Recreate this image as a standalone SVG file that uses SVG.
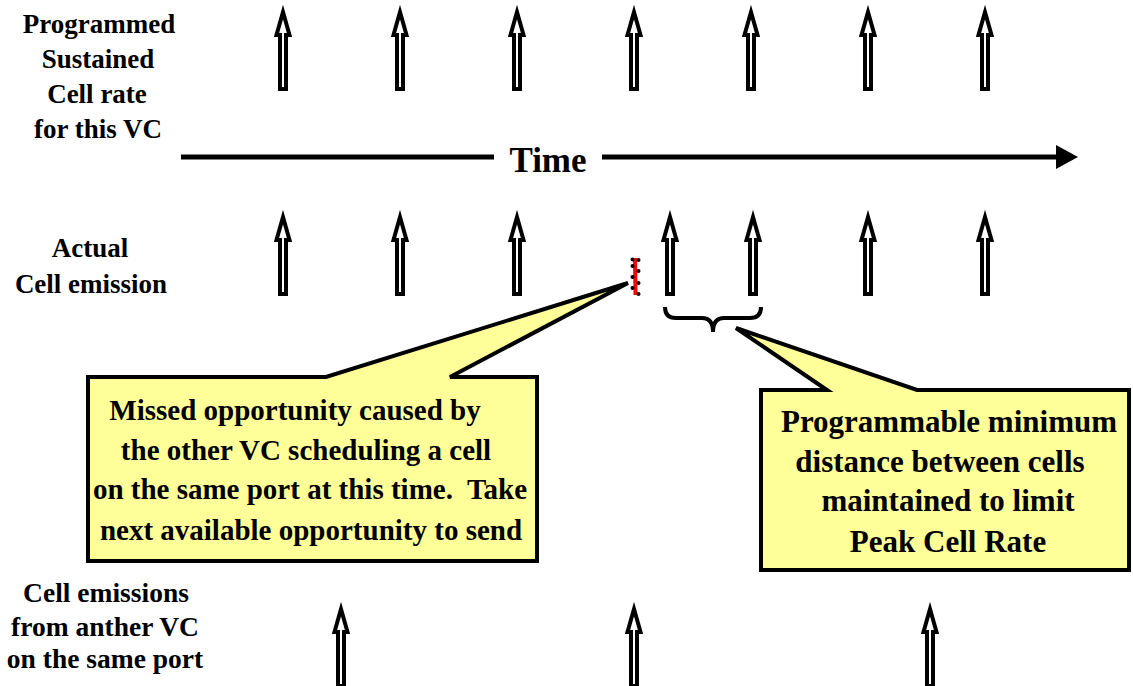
<svg xmlns="http://www.w3.org/2000/svg" width="1133" height="686" viewBox="0 0 1133 686">
  <style>
    .lbl { font-family: "Liberation Serif", "Times New Roman", serif; font-weight: bold; fill: #000; text-anchor: middle; }
    .side { font-size: 27px; }
    .side-b { font-size: 27.5px; }
    .note-l { font-size: 29px; }
    .note-r { font-size: 31px; }
    .time { font-size: 35px; }
    .cell { fill: #fff; stroke: #000; stroke-width: 4; stroke-linejoin: miter; stroke-miterlimit: 6; }
    .callout { fill: #FFFF99; stroke: #000; stroke-width: 4; stroke-linejoin: miter; }
  </style>
  <defs>
    <!-- hollow block arrow marking one cell slot, outer tip at (0,0) -->
    <path id="cellArrow" class="cell" d="M0,7 L6.5,30 L3,30 L3,84 L-3,84 L-3,30 L-6.5,30 Z"/>
  </defs>
  <rect width="1133" height="686" fill="#fff"/>

  <!-- row labels -->
  <g id="label-sustained">
    <text class="lbl side" x="99" y="33">Programmed</text>
    <text class="lbl side" x="98" y="68">Sustained</text>
    <text class="lbl side" x="97" y="103">Cell rate</text>
    <text class="lbl side" x="98" y="138">for this VC</text>
  </g>
  <g id="label-actual">
    <text class="lbl side" x="90" y="257">Actual</text>
    <text class="lbl side" x="91" y="293">Cell emission</text>
  </g>
  <g id="label-other">
    <text class="lbl side-b" x="106" y="602">Cell emissions</text>
    <text class="lbl side-b" x="105" y="636">from anther VC</text>
    <text class="lbl side-b" x="105" y="668">on the same port</text>
  </g>

  <!-- programmed sustained rate slots -->
  <g id="row-sustained">
    <use href="#cellArrow" x="283" y="5"/>
    <use href="#cellArrow" x="400" y="5"/>
    <use href="#cellArrow" x="517" y="5"/>
    <use href="#cellArrow" x="634" y="5"/>
    <use href="#cellArrow" x="751" y="5"/>
    <use href="#cellArrow" x="868" y="5"/>
    <use href="#cellArrow" x="985" y="5"/>
  </g>

  <!-- actual emissions of this VC -->
  <g id="row-actual">
    <use href="#cellArrow" x="283" y="210"/>
    <use href="#cellArrow" x="400" y="210"/>
    <use href="#cellArrow" x="517" y="210"/>
    <use href="#cellArrow" x="670" y="210"/>
    <use href="#cellArrow" x="753" y="210"/>
    <use href="#cellArrow" x="868" y="210"/>
    <use href="#cellArrow" x="985" y="210"/>
  </g>

  <!-- skipped slot -->
  <g id="missed-slot">
    <line x1="635" y1="258" x2="635.5" y2="295" stroke="#ff0000" stroke-width="4"/>
    <g fill="#000">
      <circle cx="632.5" cy="259.5" r="2"/>
      <circle cx="638.5" cy="260" r="2"/>
      <circle cx="632.5" cy="266" r="2"/>
      <circle cx="638.5" cy="271" r="2"/>
      <circle cx="632.5" cy="277" r="2"/>
      <circle cx="638.5" cy="283" r="2"/>
      <circle cx="632.5" cy="288" r="2"/>
      <circle cx="638.5" cy="294" r="2"/>
    </g>
  </g>

  <!-- emissions of the other VC -->
  <g id="row-other">
    <use href="#cellArrow" x="341" y="602"/>
    <use href="#cellArrow" x="634" y="602"/>
    <use href="#cellArrow" x="930" y="602"/>
  </g>

  <!-- time axis -->
  <g id="connectors">
    <line x1="181" y1="157" x2="494" y2="157" stroke="#000" stroke-width="5"/>
    <line x1="602" y1="157" x2="1058" y2="157" stroke="#000" stroke-width="5"/>
    <polygon points="1056,145 1078,157 1056,169" fill="#000"/>
  </g>
  <g id="time-label">
    <text class="lbl time" x="548" y="172">Time</text>
  </g>

  <!-- brace spanning the minimum spacing -->
  <g id="brace">
    <path d="M665,307 Q665,318 676,318 H702 Q713,318 713,332 Q713,318 724,318 H750 Q761,318 761,307" fill="none" stroke="#000" stroke-width="4"/>
  </g>

  <!-- callouts -->
  <g id="callout-missed">
    <path class="callout" d="M88,377 H326 L628,283 L450,377 H537 V561 H88 Z"/>
    <text class="lbl note-l" x="295" y="420">Missed opportunity caused by</text>
    <text class="lbl note-l" x="306" y="460">the other VC scheduling a cell</text>
    <text class="lbl note-l" x="310" y="499" xml:space="preserve">on the same port at this time.  Take</text>
    <text class="lbl note-l" x="311" y="540">next available opportunity to send</text>
  </g>
  <g id="callout-peak">
    <path class="callout" d="M761,390 H827 L736,328 L917,390 H1129 V570 H761 Z"/>
    <text class="lbl note-r" x="949" y="432">Programmable minimum</text>
    <text class="lbl note-r" x="940" y="472">distance between cells</text>
    <text class="lbl note-r" x="948" y="511">maintained to limit</text>
    <text class="lbl note-r" x="948" y="552">Peak Cell Rate</text>
  </g>
</svg>
